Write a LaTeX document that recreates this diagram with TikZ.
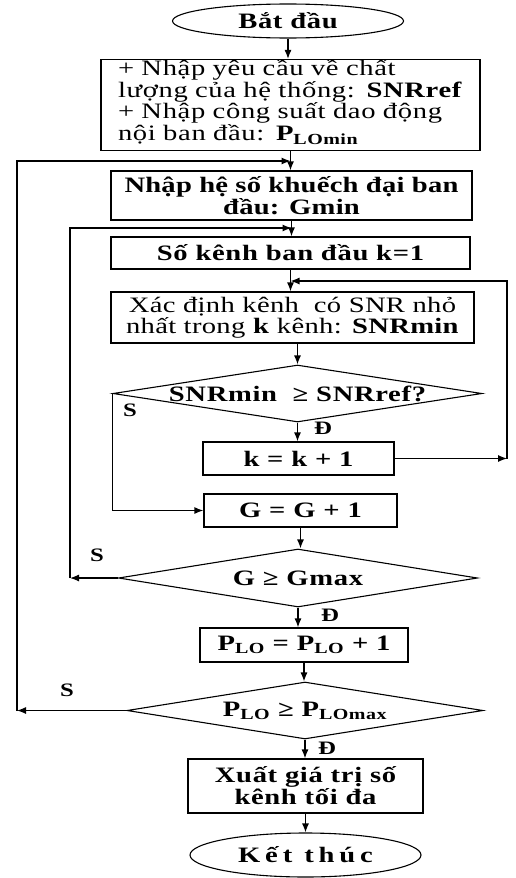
\documentclass[tikz,border=0pt]{standalone}
\usepackage{fontspec}
\setmainfont{Liberation Serif}[FakeStretch=1.3,LetterSpace=3]
\usetikzlibrary{shapes.geometric,arrows.meta}
\begin{document}
\begin{tikzpicture}[x=1pt,y=-1pt,
  font=\fontsize{22}{18.5}\selectfont,
  every node/.style={inner sep=0pt},
  proc/.style={draw,line width=1.2pt,rectangle,align=center},
  bproc/.style={proc,font=\fontsize{22}{19}\selectfont\bfseries},
  term/.style={draw,line width=1.1pt,ellipse,font=\fontsize{22}{19}\selectfont\bfseries},
  dec/.style={draw,line width=1.1pt,diamond,font=\fontsize{22}{19}\selectfont\bfseries},
  arr/.style={line width=1.2pt,-{Latex[length=9pt,width=7pt]}},
  lab/.style={font=\fontsize{19}{19}\selectfont\bfseries}]
\useasboundingbox (0,0) rectangle (515,878);

\node[term,minimum width=231pt,minimum height=34pt] (start) at (288,21) {Bắt đầu};
\node[proc,minimum width=379pt,minimum height=86pt,align=left,text width=345pt,
  font=\fontsize{22}{18}\selectfont] (b1) at (290.5,105)
  {+ Nhập yêu cầu về chất\\lượng của hệ thống: \textbf{SNRref}\\+ Nhập công suất dao động\\nội ban đầu: \textbf{P\textsubscript{LOmin}}\rule[-10pt]{0pt}{1pt}};
\node[bproc,minimum width=361pt,minimum height=49pt,font=\fontsize{22}{19}\selectfont\bfseries\addfontfeatures{LetterSpace=1}] (b2) at (291.5,195.5) {Nhập hệ số khuếch đại ban\\đầu: Gmin};
\node[bproc,minimum width=359pt,minimum height=32pt] (b3) at (290.5,253) {Số kênh ban đầu k=1};
\node[proc,minimum width=363pt,minimum height=51pt,font=\fontsize{22}{19}\selectfont\addfontfeatures{LetterSpace=1.5}] (b4) at (292.5,317.5) {Xác định kênh\ \ có SNR nhỏ\\nhất trong \textbf{k} kênh: \textbf{SNRmin}};
\node[dec,minimum width=369pt,minimum height=57pt,aspect=6.47] (d1) at (297.5,393.5) {SNRmin\ \ ≥ SNRref?};
\node[bproc,minimum width=191pt,minimum height=33pt] (bk) at (298.5,458.5) {k = k + 1};
\node[bproc,minimum width=193pt,minimum height=33pt] (bg) at (300.5,510.5) {G = G + 1};
\node[dec,minimum width=359pt,minimum height=58pt,aspect=6.19] (d2) at (298,578) {G ≥ Gmax};
\node[bproc,minimum width=208pt,minimum height=34pt] (bp) at (304,645) {P\textsubscript{LO} = P\textsubscript{LO} + 1};
\node[dec,minimum width=356pt,minimum height=57pt,aspect=6.25] (d3) at (305,710.5) {P\textsubscript{LO} ≥ P\textsubscript{LOmax}};
\node[bproc,minimum width=235pt,minimum height=54pt] (bf) at (305.5,786) {Xuất giá trị số\\kênh tối đa};
\node[term,minimum width=231pt,minimum height=44pt] (end) at (305.5,855) {\addfontfeatures{LetterSpace=22}Kết thúc};

\node[lab] (s1) at (130,410) {S};
\node[lab] (y1) at (323,428) {Đ};
\node[lab] (s2) at (97,555) {S};
\node[lab] (y2) at (330,615) {Đ};
\node[lab] (s3) at (67,690) {S};
\node[lab] (y3) at (327,748) {Đ};

\coordinate (o1) at (17,0 |- d3.west);
\coordinate (o2) at (17,161);
\coordinate (j1) at (b1.south |- o2);
\coordinate (g1) at (70,0 |- d2.west);
\coordinate (g2) at (70,228);
\coordinate (j2) at (b2.south |- g2);
\coordinate (k1) at (507,0 |- bk.east);
\coordinate (k2) at (507,281);
\coordinate (j3) at (b3.south |- k2);

\draw[arr] (start.south) -- (start.south |- b1.north);
\draw[arr] (b1.south) -- (b1.south |- b2.north);
\draw[arr] (b2.south) -- (b2.south |- b3.north);
\draw[arr] (b3.south) -- (b3.south |- b4.north);
\draw[arr] (b4.south -| d1.north) -- (d1.north);
\draw[arr] (d1.south) -- (d1.south |- bk.north);
\draw[arr] (d1.west) -- (d1.west |- bg.west) -- (bg.west);
\draw[arr] (bk.east) -- (k1);
\draw[arr] (k1) -- (k2) -- (j3);
\draw[arr] (bg.south) -- (bg.south |- d2.north);
\draw[arr] (d2.west) -- (g1);
\draw[arr] (g1) -- (g2) -- (j2);
\draw[arr] (d2.south) -- (d2.south |- bp.north);
\draw[arr] (bp.south) -- (bp.south |- d3.north);
\draw[arr] (d3.west) -- (o1);
\draw[arr] (o1) -- (o2) -- (j1);
\draw[arr] (d3.south) -- (d3.south |- bf.north);
\draw[arr] (bf.south) -- (bf.south |- end.north);
\end{tikzpicture}
\end{document}
